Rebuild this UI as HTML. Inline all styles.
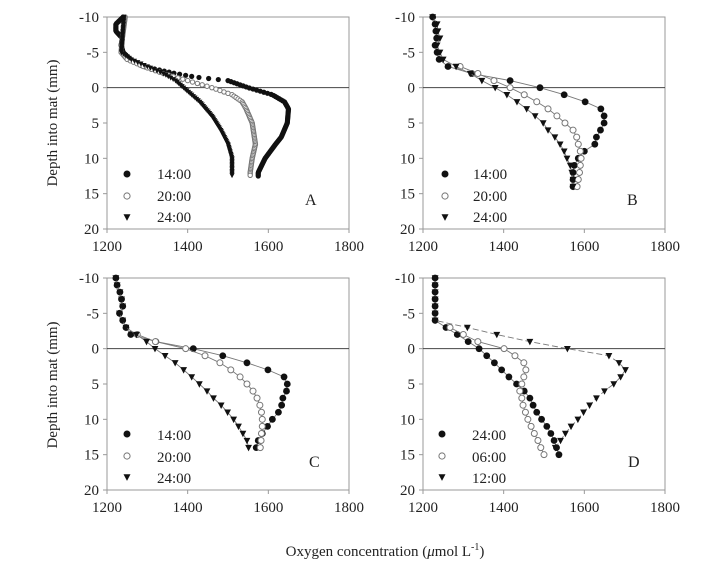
<!DOCTYPE html>
<html><head><meta charset="utf-8"><style>
body{margin:0;background:#fff;width:701px;height:570px;overflow:hidden}
svg{display:block;font-family:"Liberation Serif",serif}
</style></head><body>
<svg id="s" width="701" height="570" viewBox="0 0 701 570" xmlns="http://www.w3.org/2000/svg">
<g font-size="15" fill="#222">
<text transform="translate(57,123) rotate(-90)" text-anchor="middle">Depth into mat (mm)</text>
<text transform="translate(57,385) rotate(-90)" text-anchor="middle">Depth into mat (mm)</text>
<text x="385" y="556" text-anchor="middle">Oxygen concentration (<tspan font-style="italic">μ</tspan>mol L<tspan font-size="10" dy="-6">-1</tspan><tspan dy="6">)</tspan></text>
<text x="305" y="205" font-size="16">A</text>
<text x="627" y="205" font-size="16">B</text>
<text x="309" y="467" font-size="16">C</text>
<text x="628" y="467" font-size="16">D</text>
<g font-size="15">
<text x="157" y="179">14:00</text><text x="157" y="201">20:00</text><text x="157" y="222">24:00</text>
<text x="473" y="179">14:00</text><text x="473" y="201">20:00</text><text x="473" y="222">24:00</text>
<text x="157" y="440">14:00</text><text x="157" y="462">20:00</text><text x="157" y="483">24:00</text>
<text x="472" y="440">24:00</text><text x="472" y="462">06:00</text><text x="472" y="483">12:00</text>
</g>
</g>
<g id="g"></g>
</svg>
<script>
var NS="http://www.w3.org/2000/svg",g=document.getElementById('g');
function el(t,a){var e=document.createElementNS(NS,t);for(var k in a)e.setAttribute(k,a[k]);g.appendChild(e);return e;}
function mk(type,x,y,r){
 if(type==0)el('circle',{cx:x,cy:y,r:r,fill:'#111'});
 else if(type==1)el('circle',{cx:x,cy:y,r:r-0.4,fill:'#fff',stroke:'#777','stroke-width':1});
 else el('path',{d:'M'+(x-r)+','+(y-r*0.8)+'L'+(x+r)+','+(y-r*0.8)+'L'+x+','+(y+r*1.1)+'Z',fill:'#111'});
}
function panel(x0,y0,series,legX,legY,r,lines){
 var W=242,H=212;
 function X(c){return x0+(c-1200)/600*W}function Y(d){return y0+(d+10)/30*H}
 el('rect',{x:x0,y:y0,width:W,height:H,fill:'none',stroke:'#999','stroke-width':1});
 el('line',{x1:x0,x2:x0+W,y1:Y(0),y2:Y(0),stroke:'#444','stroke-width':1});
 for(var d=-10;d<=20;d+=5){el('line',{x1:x0-4,x2:x0,y1:Y(d),y2:Y(d),stroke:'#999'});
  var t=el('text',{x:x0-8,y:Y(d)+5,'text-anchor':'end','font-size':15,fill:'#222'});t.textContent=d;}
 for(var c=1200;c<=1800;c+=200){el('line',{x1:X(c),x2:X(c),y1:y0+H,y2:y0+H+4,stroke:'#999'});
  var t=el('text',{x:X(c),y:y0+H+22,'text-anchor':'middle','font-size':15,fill:'#222'});t.textContent=c;}
 series.forEach(function(s,i){
  if(lines){var p=s.pts.map(function(q){return X(q[0])+','+Y(q[1])}).join(' ');
   el('polyline',{points:p,fill:'none',stroke:'#777','stroke-width':0.9,'stroke-dasharray':s.dash||''});}
  s.pts.forEach(function(q){mk(s.t,X(q[0]),Y(q[1]),r)});
  mk(s.t,legX,legY[i],3.5);
 });
}
function dense(k,step){var o=[];for(var d=k[0][1];d<=k[k.length-1][1]+1e-6;d+=step){
 for(var i=0;i<k.length-1;i++)if(d>=k[i][1]-1e-6&&d<=k[i+1][1]+1e-6){var f=(d-k[i][1])/(k[i+1][1]-k[i][1]||1);o.push([k[i][0]+f*(k[i+1][0]-k[i][0]),d]);break;}}return o;}
function mm(a,s){return a.map(function(c,i){return [c,s+i]})}
// Panel A
panel(107,17,[
 {t:0,pts:dense([[1240,-10],[1222,-9],[1222,-8],[1238,-7],[1235,-6],[1240,-5],[1258,-4],[1290,-3],[1370,-2],[1420,-1.5],[1500,-1],[1550,0],[1610,1],[1640,2],[1650,3],[1647,5],[1632,7],[1618,8],[1592,10],[1575,12],[1575,12.5]],0.15)},
 {t:1,pts:dense([[1245,-10],[1238,-7],[1235,-5],[1250,-4],[1290,-3],[1340,-2],[1400,-1],[1460,0],[1510,1],[1535,2],[1545,3],[1560,5],[1568,8],[1560,10],[1555,12],[1555,12.5]],0.2)},
 {t:2,pts:dense([[1242,-10],[1238,-7],[1236,-5],[1260,-4],[1300,-3],[1340,-2],[1370,-1],[1390,0],[1430,2],[1460,4],[1482,6],[1500,8],[1510,10],[1510,12.5]],0.2)}
],127,[174,196,217],2.6,false);
// Panel B
panel(423,17,[
 {t:0,pts:mm([1224,1230,1232,1234,1230,1235,1240,1262,1321,1416,1490,1550,1602,1641,1649,1649,1640,1630,1626,1600,1585,1575,1572,1572,1572],-10)},
 {t:1,pts:mm([1292,1336,1376,1416,1451,1482,1510,1532,1552,1572,1581,1585,1590,1592,1590,1588,1585,1582],-3)},
 {t:2,pts:mm([1224,1235,1237,1242,1235,1242,1250,1282,1317,1346,1379,1408,1433,1457,1478,1498,1510,1527,1540,1550,1557,1565,1569,1572,1572],-10)}
],445,[174,196,217],3.4,true);
// Panel C
panel(107,278,[
 {t:0,pts:mm([1222,1225,1232,1236,1239,1231,1239,1247,1259,1321,1414,1487,1547,1599,1639,1647,1645,1636,1633,1625,1610,1598,1585,1575,1570],-10)},
 {t:1,pts:mm([1275,1320,1395,1443,1480,1507,1530,1547,1562,1572,1579,1583,1585,1585,1583,1582,1580],-2)},
 {t:2,pts:mm([1222,1225,1232,1236,1239,1231,1239,1247,1273,1298,1319,1344,1369,1390,1410,1429,1448,1464,1483,1499,1514,1526,1537,1547,1551],-10)}
],127,[434,456,477],3.4,true);
// Panel D
panel(423,278,[
 {t:0,pts:mm([1230,1230,1230,1230,1230,1230,1230,1257,1285,1312,1339,1358,1377,1395,1413,1432,1451,1465,1473,1482,1494,1507,1517,1525,1531,1537],-10)},
 {t:1,pts:mm([1267,1300,1336,1401,1428,1450,1455,1450,1445,1440,1445,1448,1454,1460,1468,1476,1485,1492,1500],-3)},
 {t:2,dash:'6,3',pts:mm([1230,1230,1230,1230,1230,1230,1230,1310,1383,1465,1558,1661,1686,1702,1690,1673,1650,1630,1613,1598,1584,1567,1553,1541,1528],-10)}
],442,[434,456,477],3.4,true);
</script>
</body></html>
